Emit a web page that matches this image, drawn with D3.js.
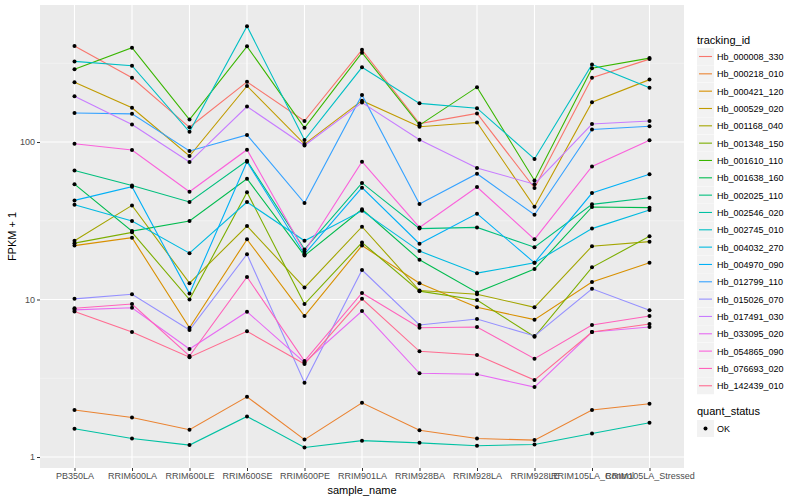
<!DOCTYPE html>
<html>
<head>
<meta charset="utf-8">
<script src="https://cdn.jsdelivr.net/npm/d3@7"></script>
<style>
  body { margin: 0; background: #fff; }
  svg text { font-family: "Liberation Sans", Arial, sans-serif; }
</style>
</head>
<body>
<div id="chart"></div>
<script>
// samples on the x axis
const samples = ["PB350LA", "RRIM600LA", "RRIM600LE", "RRIM600SE", "RRIM600PE", "RRIM901LA",
  "RRIM928BA", "RRIM928LA", "RRIM928LE", "RRIM105LA_Control", "RRIM105LA_Stressed"];

// tracking ids (legend order) and their colours
const trackingIds = ["Hb_000008_330", "Hb_000218_010", "Hb_000421_120", "Hb_000529_020", "Hb_001168_040",
  "Hb_001348_150", "Hb_001610_110", "Hb_001638_160", "Hb_002025_110", "Hb_002546_020", "Hb_002745_010",
  "Hb_004032_270", "Hb_004970_090", "Hb_012799_110", "Hb_015026_070", "Hb_017491_030", "Hb_033095_020",
  "Hb_054865_090", "Hb_076693_020", "Hb_142439_010"];
const colors = ["#F8766D", "#EA8331", "#D89000", "#C09B00", "#A3A500", "#7CAE00", "#39B600", "#00BB4E",
  "#00BF7D", "#00C1A3", "#00BFC4", "#00BAE0", "#00B0F6", "#35A2FF", "#9590FF", "#C77CFF", "#E76BF3",
  "#FA62DB", "#FF62BC", "#FF6C91"];

// FPKM + 1, one array per tracking id, in sample order
const hb_000008_330 = [407, 256, 124, 241, 136, 385, 131, 152, 51, 256, 336];
const hb_000218_010 = [1.99, 1.78, 1.49, 2.41, 1.29, 2.21, 1.48, 1.31, 1.28, 1.99, 2.18];
const hb_000421_120 = [22, 24.7, 6.62, 24.1, 7.85, 22, 12.7, 8.92, 7.45, 12.9, 17.1];
const hb_000529_020 = [240, 165, 81.5, 227, 97, 183, 125, 133, 38.8, 179, 249];
const hb_001168_040 = [23.6, 39.6, 12.7, 29.3, 11.9, 29, 11.4, 10.8, 8.92, 21.8, 23.3];
const hb_001348_150 = [22.8, 26.7, 10.0, 48, 9.36, 23, 11.3, 9.93, 5.8, 16.0, 25.2];
const hb_001610_110 = [290, 397, 139, 405, 123, 369, 128, 223, 57, 294, 341];
const hb_001638_160 = [54, 27.2, 31.5, 58.5, 19.0, 37.4, 17.9, 11.1, 15.6, 38.7, 38.3];
const hb_002025_110 = [66, 53, 41.6, 76, 20.8, 55, 28.2, 28.7, 21.5, 40.2, 44.3];
const hb_002546_020 = [1.51, 1.31, 1.19, 1.81, 1.15, 1.27, 1.23, 1.18, 1.2, 1.41, 1.65];
const hb_002745_010 = [325, 305, 116, 543, 103, 298, 176, 164, 78, 311, 221];
const hb_004032_270 = [40, 31.5, 19.7, 41.6, 23.6, 36.6, 20.3, 14.7, 17.1, 28.2, 37];
const hb_004970_090 = [42.6, 52, 10.9, 75, 19.4, 51.3, 22.6, 35.1, 17.1, 47.4, 62.4];
const hb_012799_110 = [153, 151, 87.7, 111, 41, 199, 40.4, 62.9, 34.5, 120, 126];
const hb_015026_070 = [10.1, 10.8, 6.4, 19.4, 2.96, 15.4, 6.89, 7.52, 5.87, 11.7, 8.54];
const hb_017491_030 = [195, 129, 74.6, 168, 95, 178, 103.5, 68.4, 54, 130, 136];
const hb_033095_020 = [8.6, 8.87, 4.85, 8.37, 3.98, 8.45, 3.4, 3.35, 2.78, 6.22, 6.69];
const hb_054865_090 = [97.5, 89, 48.3, 89.4, 20.2, 75, 28.7, 51.8, 24.1, 70, 102.6];
const hb_076693_020 = [8.8, 9.36, 4.38, 13.9, 4.07, 11.0, 6.62, 6.69, 4.21, 6.89, 7.86];
const hb_142439_010 = [8.4, 6.22, 4.3, 6.28, 3.89, 10.1, 4.69, 4.44, 3.08, 6.22, 6.99];

const yTicks = [1, 10, 100];
const yMinor = [Math.pow(10, 0.5), Math.pow(10, 1.5), Math.pow(10, 2.5)];

const seriesValues = [hb_000008_330, hb_000218_010, hb_000421_120, hb_000529_020, hb_001168_040,
  hb_001348_150, hb_001610_110, hb_001638_160, hb_002025_110, hb_002546_020, hb_002745_010,
  hb_004032_270, hb_004970_090, hb_012799_110, hb_015026_070, hb_017491_030, hb_033095_020,
  hb_054865_090, hb_076693_020, hb_142439_010];

const series = trackingIds.map((id, i) => ({
  id: id,
  color: colors[i],
  values: seriesValues[i].map((v, j) => ({ sample: samples[j], value: v }))
}));

const width = 800;
const height = 500;
const panel = { left: 40, right: 684, top: 5, bottom: 468 };

const svg = d3.select('#chart').append('svg')
  .attr('width', width)
  .attr('height', height);

// panel background
svg.append('rect')
  .attr('x', panel.left).attr('y', panel.top)
  .attr('width', panel.right - panel.left)
  .attr('height', panel.bottom - panel.top)
  .attr('fill', '#EBEBEB');

const x = d3.scalePoint()
  .domain(samples)
  .range([panel.left, panel.right])
  .padding(0.6);

const y = d3.scaleLog()
  .domain([Math.pow(10, -0.0698), Math.pow(10, 2.87)])
  .range([panel.bottom, panel.top]);

// grid lines
svg.append('g').selectAll('line')
  .data(yMinor)
  .enter().append('line')
  .attr('x1', panel.left).attr('x2', panel.right)
  .attr('y1', d => y(d)).attr('y2', d => y(d))
  .attr('stroke', '#F5F5F5').attr('stroke-width', 0.6);

svg.append('g').selectAll('line')
  .data(yTicks)
  .enter().append('line')
  .attr('x1', panel.left).attr('x2', panel.right)
  .attr('y1', d => y(d)).attr('y2', d => y(d))
  .attr('stroke', '#FFFFFF').attr('stroke-width', 1.1);

svg.append('g').selectAll('line')
  .data(samples)
  .enter().append('line')
  .attr('x1', d => x(d)).attr('x2', d => x(d))
  .attr('y1', panel.top).attr('y2', panel.bottom)
  .attr('stroke', '#FFFFFF').attr('stroke-width', 1.1);

// lines
const line = d3.line()
  .x(d => x(d.sample))
  .y(d => y(d.value));

svg.append('g').selectAll('path')
  .data(series)
  .enter().append('path')
  .attr('d', d => line(d.values))
  .attr('fill', 'none')
  .attr('stroke', d => d.color)
  .attr('stroke-width', 1.1);

// points
svg.append('g').selectAll('g')
  .data(series)
  .enter().append('g')
  .selectAll('circle')
  .data(d => d.values)
  .enter().append('circle')
  .attr('cx', d => x(d.sample))
  .attr('cy', d => y(d.value))
  .attr('r', 2)
  .attr('fill', '#000');

// axes
const xAxis = d3.axisBottom(x).tickSize(3).tickPadding(2);
const gx = svg.append('g')
  .attr('transform', `translate(0,${panel.bottom})`)
  .call(xAxis);
gx.select('.domain').remove();
gx.selectAll('line').attr('stroke', '#333333');
gx.selectAll('text').attr('fill', '#4D4D4D').style('font-size', '9px');

const yAxis = d3.axisLeft(y).tickValues(yTicks).tickFormat(d3.format('d')).tickSize(3).tickPadding(2);
const gy = svg.append('g')
  .attr('transform', `translate(${panel.left},0)`)
  .call(yAxis);
gy.select('.domain').remove();
gy.selectAll('line').attr('stroke', '#333333');
gy.selectAll('text').attr('fill', '#4D4D4D').style('font-size', '9px');

// axis titles
svg.append('text')
  .attr('x', (panel.left + panel.right) / 2)
  .attr('y', 494)
  .attr('text-anchor', 'middle')
  .style('font-size', '11px')
  .text('sample_name');

svg.append('text')
  .attr('transform', `translate(16,${(panel.top + panel.bottom) / 2}) rotate(-90)`)
  .attr('text-anchor', 'middle')
  .style('font-size', '11px')
  .text('FPKM + 1');

// legend: tracking_id
const legend = svg.append('g').attr('transform', 'translate(697,0)');
legend.append('text')
  .attr('x', 0).attr('y', 44)
  .style('font-size', '11px')
  .text('tracking_id');

const item = legend.selectAll('.item')
  .data(series)
  .enter().append('g')
  .attr('class', 'item')
  .attr('transform', (d, i) => `translate(0,${48 + i * 17.33})`);

item.append('rect')
  .attr('width', 17).attr('height', 17)
  .attr('fill', '#F2F2F2');
item.append('line')
  .attr('x1', 2).attr('x2', 15)
  .attr('y1', 8.5).attr('y2', 8.5)
  .attr('stroke', d => d.color)
  .attr('stroke-width', 1.1);
item.append('text')
  .attr('x', 20).attr('y', 12)
  .style('font-size', '9px')
  .text(d => d.id);

// legend: quant_status
legend.append('text')
  .attr('x', 0).attr('y', 415)
  .style('font-size', '11px')
  .text('quant_status');
legend.append('rect')
  .attr('x', 0).attr('y', 420)
  .attr('width', 17).attr('height', 17)
  .attr('fill', '#F2F2F2');
legend.append('circle')
  .attr('cx', 8.5).attr('cy', 428.5)
  .attr('r', 2)
  .attr('fill', '#000');
legend.append('text')
  .attr('x', 20).attr('y', 432)
  .style('font-size', '9px')
  .text('OK');
</script>
</body>
</html>
